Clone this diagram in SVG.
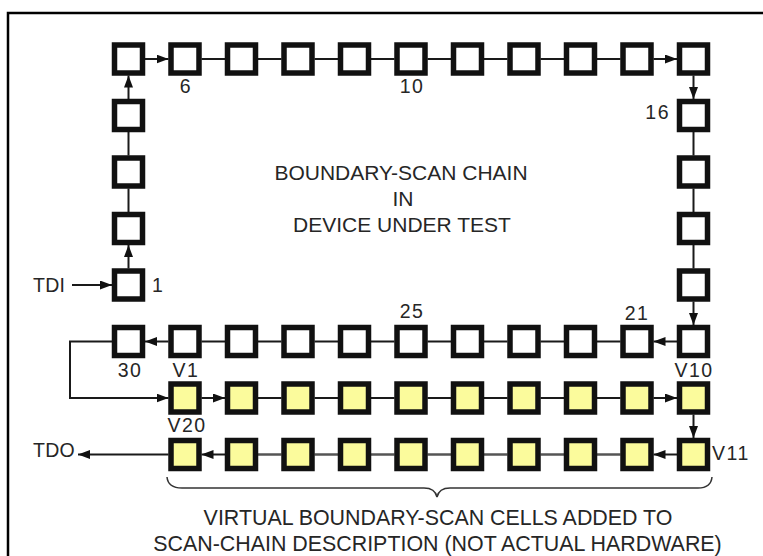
<svg xmlns="http://www.w3.org/2000/svg" width="763" height="556" viewBox="0 0 763 556">
<style>
.c{fill:#ffffff;stroke:#111;stroke-width:5.5}
.v{fill:#fbfb9c;stroke:#111;stroke-width:5.5}
.ln{fill:none;stroke:#1a1a1a;stroke-width:2}
.lg{fill:none;stroke:#555;stroke-width:2.5}
.ar{fill:none;stroke:#1a1a1a;stroke-width:2;marker-end:url(#ah)}
.t{font-family:"Liberation Sans",Arial,sans-serif;fill:#262626}
.lb{font-size:19.5px;letter-spacing:1.5px}
.big{font-size:21px;text-anchor:middle}
.bot{font-size:21.4px;text-anchor:middle}
.frame{fill:none;stroke:#000;stroke-width:2.5}
</style>
<defs>
<marker id="ah" markerWidth="12" markerHeight="9" refX="12" refY="4.5" orient="auto" markerUnits="userSpaceOnUse"><path d="M0,0 L12,4.5 L0,9 z" fill="#111"/></marker>
</defs>
<path class="frame" d="M8,556 V13 H763"/>
<g id="connectors">
<path class="ar" d="M72,285 H112"/>
<path class="ar" d="M128.5,268.5 V245"/>
<path class="ln" d="M128.5,212 V188.5"/>
<path class="ln" d="M128.5,155.5 V132"/>
<path class="ar" d="M128.5,99 V75.5"/>
<path class="ar" d="M145,59 H168.5"/>
<path class="ln" d="M201.5,59 H225 M258,59 H281.5 M314.5,59 H338 M371,59 H394.5 M427.5,59 H451 M484,59 H507.5 M540.5,59 H564 M597,59 H620.5"/>
<path class="ar" d="M653.5,59 H677"/>
<path class="ar" d="M693.5,75.5 V99"/>
<path class="ln" d="M693.5,132 V155.5 M693.5,188.5 V212 M693.5,245 V268.5"/>
<path class="ar" d="M693.5,301.5 V325"/>
<path class="ar" d="M677,341.5 H653.5"/>
<path class="ln" d="M620.5,341.5 H597 M564,341.5 H540.5 M507.5,341.5 H484 M451,341.5 H427.5 M394.5,341.5 H371 M338,341.5 H314.5 M281.5,341.5 H258 M225,341.5 H201.5"/>
<path class="ar" d="M168.5,341.5 H145"/>
<path class="ar" d="M112,341.5 H70 V398 H168.5"/>
<path class="ar" d="M201.5,398 H225"/>
<path class="ln" d="M258,398 H281.5 M314.5,398 H338 M371,398 H394.5 M427.5,398 H451 M484,398 H507.5 M540.5,398 H564 M597,398 H620.5"/>
<path class="ar" d="M653.5,398 H677"/>
<path class="ar" d="M693.5,414.5 V438"/>
<path class="ar" d="M677,454.5 H653.5"/>
<path class="lg" d="M620.5,454.5 H597 M564,454.5 H540.5 M507.5,454.5 H484 M451,454.5 H427.5 M394.5,454.5 H371 M338,454.5 H314.5 M281.5,454.5 H258"/>
<path class="ar" d="M225,454.5 H201.5"/>
<path class="ar" d="M168.5,454.5 H78"/>
</g>
<g id="cell1"><rect class="c" x="114.5" y="271" width="28" height="28"/></g>
<g id="cell2"><rect class="c" x="114.5" y="214.5" width="28" height="28"/></g>
<g id="cell3"><rect class="c" x="114.5" y="158" width="28" height="28"/></g>
<g id="cell4"><rect class="c" x="114.5" y="101.5" width="28" height="28"/></g>
<g id="cell5"><rect class="c" x="114.5" y="45" width="28" height="28"/></g>
<g id="cell6"><rect class="c" x="171" y="45" width="28" height="28"/></g>
<g id="cell7"><rect class="c" x="227.5" y="45" width="28" height="28"/></g>
<g id="cell8"><rect class="c" x="284" y="45" width="28" height="28"/></g>
<g id="cell9"><rect class="c" x="340.5" y="45" width="28" height="28"/></g>
<g id="cell10"><rect class="c" x="397" y="45" width="28" height="28"/></g>
<g id="cell11"><rect class="c" x="453.5" y="45" width="28" height="28"/></g>
<g id="cell12"><rect class="c" x="510" y="45" width="28" height="28"/></g>
<g id="cell13"><rect class="c" x="566.5" y="45" width="28" height="28"/></g>
<g id="cell14"><rect class="c" x="623" y="45" width="28" height="28"/></g>
<g id="cell15"><rect class="c" x="679.5" y="45" width="28" height="28"/></g>
<g id="cell16"><rect class="c" x="679.5" y="101.5" width="28" height="28"/></g>
<g id="cell17"><rect class="c" x="679.5" y="158" width="28" height="28"/></g>
<g id="cell18"><rect class="c" x="679.5" y="214.5" width="28" height="28"/></g>
<g id="cell19"><rect class="c" x="679.5" y="271" width="28" height="28"/></g>
<g id="cell20"><rect class="c" x="679.5" y="327.5" width="28" height="28"/></g>
<g id="cell21"><rect class="c" x="623" y="327.5" width="28" height="28"/></g>
<g id="cell22"><rect class="c" x="566.5" y="327.5" width="28" height="28"/></g>
<g id="cell23"><rect class="c" x="510" y="327.5" width="28" height="28"/></g>
<g id="cell24"><rect class="c" x="453.5" y="327.5" width="28" height="28"/></g>
<g id="cell25"><rect class="c" x="397" y="327.5" width="28" height="28"/></g>
<g id="cell26"><rect class="c" x="340.5" y="327.5" width="28" height="28"/></g>
<g id="cell27"><rect class="c" x="284" y="327.5" width="28" height="28"/></g>
<g id="cell28"><rect class="c" x="227.5" y="327.5" width="28" height="28"/></g>
<g id="cell29"><rect class="c" x="171" y="327.5" width="28" height="28"/></g>
<g id="cell30"><rect class="c" x="114.5" y="327.5" width="28" height="28"/></g>
<g id="v1"><rect class="v" x="171" y="384" width="28" height="28"/></g>
<g id="v2"><rect class="v" x="227.5" y="384" width="28" height="28"/></g>
<g id="v3"><rect class="v" x="284" y="384" width="28" height="28"/></g>
<g id="v4"><rect class="v" x="340.5" y="384" width="28" height="28"/></g>
<g id="v5"><rect class="v" x="397" y="384" width="28" height="28"/></g>
<g id="v6"><rect class="v" x="453.5" y="384" width="28" height="28"/></g>
<g id="v7"><rect class="v" x="510" y="384" width="28" height="28"/></g>
<g id="v8"><rect class="v" x="566.5" y="384" width="28" height="28"/></g>
<g id="v9"><rect class="v" x="623" y="384" width="28" height="28"/></g>
<g id="v10"><rect class="v" x="679.5" y="384" width="28" height="28"/></g>
<g id="v11"><rect class="v" x="679.5" y="440.5" width="28" height="28"/></g>
<g id="v12"><rect class="v" x="623" y="440.5" width="28" height="28"/></g>
<g id="v13"><rect class="v" x="566.5" y="440.5" width="28" height="28"/></g>
<g id="v14"><rect class="v" x="510" y="440.5" width="28" height="28"/></g>
<g id="v15"><rect class="v" x="453.5" y="440.5" width="28" height="28"/></g>
<g id="v16"><rect class="v" x="397" y="440.5" width="28" height="28"/></g>
<g id="v17"><rect class="v" x="340.5" y="440.5" width="28" height="28"/></g>
<g id="v18"><rect class="v" x="284" y="440.5" width="28" height="28"/></g>
<g id="v19"><rect class="v" x="227.5" y="440.5" width="28" height="28"/></g>
<g id="v20"><rect class="v" x="171" y="440.5" width="28" height="28"/></g>
<g id="labels">
<text class="t lb" x="186" y="93" text-anchor="middle">6</text>
<text class="t lb" x="412" y="93" text-anchor="middle">10</text>
<text class="t lb" x="670" y="119" text-anchor="end">16</text>
<text class="t lb" x="152" y="292">1</text>
<text class="t lb" x="637" y="320" text-anchor="middle">21</text>
<text class="t lb" x="412" y="318" text-anchor="middle">25</text>
<text class="t lb" x="130" y="377" text-anchor="middle">30</text>
<text class="t lb" x="186" y="377" text-anchor="middle">V1</text>
<text class="t lb" x="694" y="377" text-anchor="middle">V10</text>
<text class="t lb" x="187" y="432" text-anchor="middle">V20</text>
<text class="t lb" x="712" y="460">V11</text>
<text class="t lb" x="33" y="292" style="letter-spacing:0.3px">TDI</text>
<text class="t lb" x="33" y="457" style="letter-spacing:0.3px">TDO</text>
</g>
<g id="title">
<text class="t big" x="401" y="180">BOUNDARY-SCAN CHAIN</text>
<text class="t big" x="403" y="206">IN</text>
<text class="t big" x="402" y="232">DEVICE UNDER TEST</text>
</g>
<g id="brace">
<path d="M167,477 Q168,488 182,488 L424,488 Q435,488 437,497 Q439,488 450,488 L698,488 Q711,488 712,477" fill="none" stroke="#333" stroke-width="1.5"/>
<text class="t bot" x="438" y="525">VIRTUAL BOUNDARY-SCAN CELLS ADDED TO</text>
<text class="t bot" x="437.5" y="551">SCAN-CHAIN DESCRIPTION (NOT ACTUAL HARDWARE)</text>
</g>
</svg>
